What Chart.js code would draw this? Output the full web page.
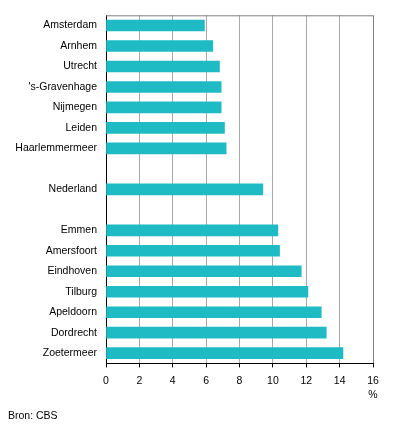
<!DOCTYPE html>
<html>
<head>
<meta charset="utf-8">
<script src="https://cdn.jsdelivr.net/npm/chart.js@4.4.1/dist/chart.umd.min.js"></script>
<style>
  html, body { margin: 0; padding: 0; background: #fff; }
  #wrap { width: 396px; height: 426px; }
</style>
</head>
<body>
<div id="wrap"><canvas id="chart" width="396" height="426"></canvas></div>
<script>
// Gemeenten, met lege regels als scheiding tussen de groepen
const gemeenten = [
  'Amsterdam', 'Arnhem', 'Utrecht', "'s-Gravenhage", 'Nijmegen', 'Leiden', 'Haarlemmermeer',
  '', 'Nederland', '',
  'Emmen', 'Amersfoort', 'Eindhoven', 'Tilburg', 'Apeldoorn', 'Dordrecht', 'Zoetermeer'
];
const percentages = [
  5.9, 6.4, 6.8, 6.9, 6.9, 7.1, 7.2,
  null, 9.4, null,
  10.3, 10.4, 11.7, 12.1, 12.9, 13.2, 14.2
];
const xTicks = [0, 2, 4, 6, 8, 10, 12, 14, 16];

const fontFam = '"Liberation Sans", Arial, sans-serif';
const fontSize = 10.5;

// grijze bovenrand van het plotvlak en het %-teken onder de as
const extras = {
  id: 'extras',
  afterDraw(chart) {
    const a = chart.chartArea;
    const c = chart.ctx;
    c.save();
    c.strokeStyle = '#808080';
    c.lineWidth = 1;
    c.beginPath();
    c.moveTo(a.left, a.top + 0.5);
    c.lineTo(a.right, a.top + 0.5);
    c.stroke();
    c.fillStyle = '#000';
    c.font = fontSize + 'px ' + fontFam;
    c.textAlign = 'center';
    c.textBaseline = 'middle';
    c.fillText('%', a.right, a.bottom + 32);
    c.restore();
  }
};

new Chart(document.getElementById('chart'), {
  type: 'bar',
  data: {
    labels: gemeenten,
    datasets: [{
      data: percentages,
      backgroundColor: '#1ebbc5',
      borderWidth: 0,
      barThickness: 11
    }]
  },
  options: {
    indexAxis: 'y',
    responsive: false,
    devicePixelRatio: 1,
    animation: false,
    layout: { padding: { top: 15, right: 23, left: 8, bottom: 0 } },
    plugins: {
      legend: { display: false },
      tooltip: { enabled: false },
      title: {
        display: true,
        text: 'Bron: CBS',
        position: 'bottom',
        align: 'start',
        color: '#000',
        font: { family: fontFam, size: fontSize, weight: 'normal' },
        padding: { top: 3, bottom: 4 }
      }
    },
    scales: {
      x: {
        min: 0,
        max: 16,
        afterBuildTicks(scale) {
          scale.ticks = xTicks.map(v => ({ value: v }));
        },
        afterFit(scale) { scale.height = 43; },
        grid: {
          color: ctx => (ctx.tick && ctx.tick.value === 16) ? '#808080' : '#a8a8a8',
          tickColor: '#000',
          tickLength: 4,
          drawOnChartArea: true
        },
        border: { display: true, color: '#000', width: 1 },
        ticks: {
          color: '#000',
          padding: 7,
          font: { family: fontFam, size: fontSize },
          maxRotation: 0
        }
      },
      y: {
        afterFit(scale) { scale.width = 98; },
        grid: { display: false, drawTicks: false },
        border: { display: true, color: '#000', width: 1 },
        ticks: {
          color: '#000',
          padding: 9,
          autoSkip: false,
          font: { family: fontFam, size: fontSize }
        }
      }
    }
  },
  plugins: [extras]
});
</script>
</body>
</html>
